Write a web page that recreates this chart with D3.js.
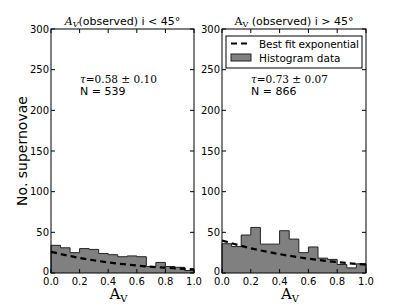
<!DOCTYPE html>
<html>
<head>
<meta charset="utf-8">
<script src="https://cdn.jsdelivr.net/npm/d3@7"></script>
<style>
  body { margin: 0; background: #fff; }
  svg text { font-family: "DejaVu Sans", sans-serif; }
  .serif { font-family: "DejaVu Serif", serif; }
</style>
</head>
<body>
<div id="chart"></div>
<script>
// bin edges 0..1 in 15 bins
const binEdges = d3.range(16).map(i => i / 15)
const countsLow = [34, 31, 25, 30, 29, 24, 22.5, 20, 21, 20, 8, 13, 8, 7, 3]
const countsHigh = [36, 32.5, 46.7, 56, 35.5, 35.5, 52, 41.7, 25, 32, 18.3, 16.7, 10.4, 6.3, 11.3]
// fit curves
const fitX = [0, 0.2, 0.4, 0.6, 0.8, 1.0]
const fitLow = [26, 18.5, 13.1, 9.2, 6.5, 4.6]
const fitHigh = [40, 30.4, 23.2, 17.6, 13.4, 10.2]
const yTicks = [0, 50, 100, 150, 200, 250, 300]
const xTicks = [0, 0.2, 0.4, 0.6, 0.8, 1.0]

const W = 407, H = 305
const svg = d3.select('#chart').append('svg').attr('width', W).attr('height', H)

const y = d3.scaleLinear().domain([0, 300]).range([273, 29])

function panel(x0, x1, counts, fit, tau, n, titleItalic, titleRest) {
  const x = d3.scaleLinear().domain([0, 1]).range([x0, x1])
  const g = svg.append('g')

  // histogram (stepfilled)
  const pts = [[0, 0]]
  counts.forEach((c, i) => { pts.push([binEdges[i], c]); pts.push([binEdges[i + 1], c]) })
  pts.push([1, 0])
  g.append('path')
    .attr('d', d3.line().x(d => x(d[0])).y(d => y(d[1]))(pts))
    .attr('fill', '#808080')
    .attr('stroke', '#222')
    .attr('stroke-width', 1)

  g.append('path')
    .attr('d', d3.line().x(d => x(d)).y((d, i) => y(fit[i])).curve(d3.curveMonotoneX)(fitX))
    .attr('fill', 'none')
    .attr('stroke', '#000')
    .attr('stroke-width', 2.2)
    .attr('stroke-dasharray', '6,4')

  // frame and inward ticks
  g.append('rect').attr('x', x0).attr('y', y(300)).attr('width', x1 - x0).attr('height', y(0) - y(300))
    .attr('fill', 'none').attr('stroke', '#000').attr('stroke-width', 1)
  yTicks.forEach(t => {
    g.append('line').attr('x1', x0).attr('x2', x0 + 4).attr('y1', y(t)).attr('y2', y(t)).attr('stroke', '#000')
    g.append('line').attr('x1', x1).attr('x2', x1 - 4).attr('y1', y(t)).attr('y2', y(t)).attr('stroke', '#000')
    g.append('text').attr('x', x0 - 2).attr('y', y(t) + (t === 0 ? 1.5 : 3.5)).attr('text-anchor', 'end')
      .attr('font-size', 10).text(t)
  })
  xTicks.forEach(t => {
    g.append('line').attr('x1', x(t)).attr('x2', x(t)).attr('y1', y(0)).attr('y2', y(0) - 4).attr('stroke', '#000')
    g.append('line').attr('x1', x(t)).attr('x2', x(t)).attr('y1', y(300)).attr('y2', y(300) + 4).attr('stroke', '#000')
    g.append('text').attr('x', x(t)).attr('y', 285).attr('text-anchor', 'middle')
      .attr('font-size', 10).text(t.toFixed(1))
  })

  // title
  const title = g.append('text').attr('x', (x0 + x1) / 2).attr('y', 25).attr('text-anchor', 'middle').attr('font-size', 11)
  title.append('tspan').attr('class', 'serif').attr('font-style', titleItalic ? 'italic' : 'normal').text('A')
  title.append('tspan').attr('class', 'serif').attr('font-style', titleItalic ? 'italic' : 'normal')
    .attr('font-size', 8).attr('dy', 2).text('V')
  title.append('tspan').attr('dy', -2).text(titleRest)

  // x label
  const xl = g.append('text').attr('class', 'serif').attr('x', (x0 + x1) / 2 - 4).attr('y', 299)
    .attr('text-anchor', 'middle').attr('font-size', 15)
  xl.append('tspan').text('A')
  xl.append('tspan').attr('font-size', 10).attr('dy', 3).text('V')

  // annotations
  const ann = g.append('text').attr('class', 'serif').attr('x', x0 + 29).attr('y', 83).attr('font-size', 10.5)
  ann.append('tspan').attr('font-style', 'italic').text('τ')
  ann.append('tspan').text('=' + tau)
  g.append('text').attr('x', x0 + 29).attr('y', 95).attr('font-size', 11).text('N = ' + n)
}

panel(51, 194, countsLow, fitLow, '0.58 ± 0.10', 539, true, '(observed) i < 45°')
panel(222, 366, countsHigh, fitHigh, '0.73 ± 0.07', 866, false, ' (observed) i > 45°')

// y label
svg.append('text').attr('transform', 'translate(27,151) rotate(-90)').attr('text-anchor', 'middle')
  .attr('font-size', 14).text('No. supernovae')

// legend
const lg = svg.append('g')
lg.append('rect').attr('x', 226).attr('y', 36).attr('width', 136).attr('height', 32)
  .attr('fill', '#fff').attr('stroke', '#000').attr('stroke-width', 1)
lg.append('line').attr('x1', 231).attr('x2', 251).attr('y1', 43.5).attr('y2', 43.5)
  .attr('stroke', '#000').attr('stroke-width', 2.2).attr('stroke-dasharray', '6,4')
lg.append('text').attr('x', 259).attr('y', 47.5).attr('font-size', 10.5).attr('textLength', 100).text('Best fit exponential')
lg.append('rect').attr('x', 231).attr('y', 54).attr('width', 20).attr('height', 7)
  .attr('fill', '#808080').attr('stroke', '#222')
lg.append('text').attr('x', 259).attr('y', 62).attr('font-size', 10.5).text('Histogram data')
</script>
</body>
</html>
